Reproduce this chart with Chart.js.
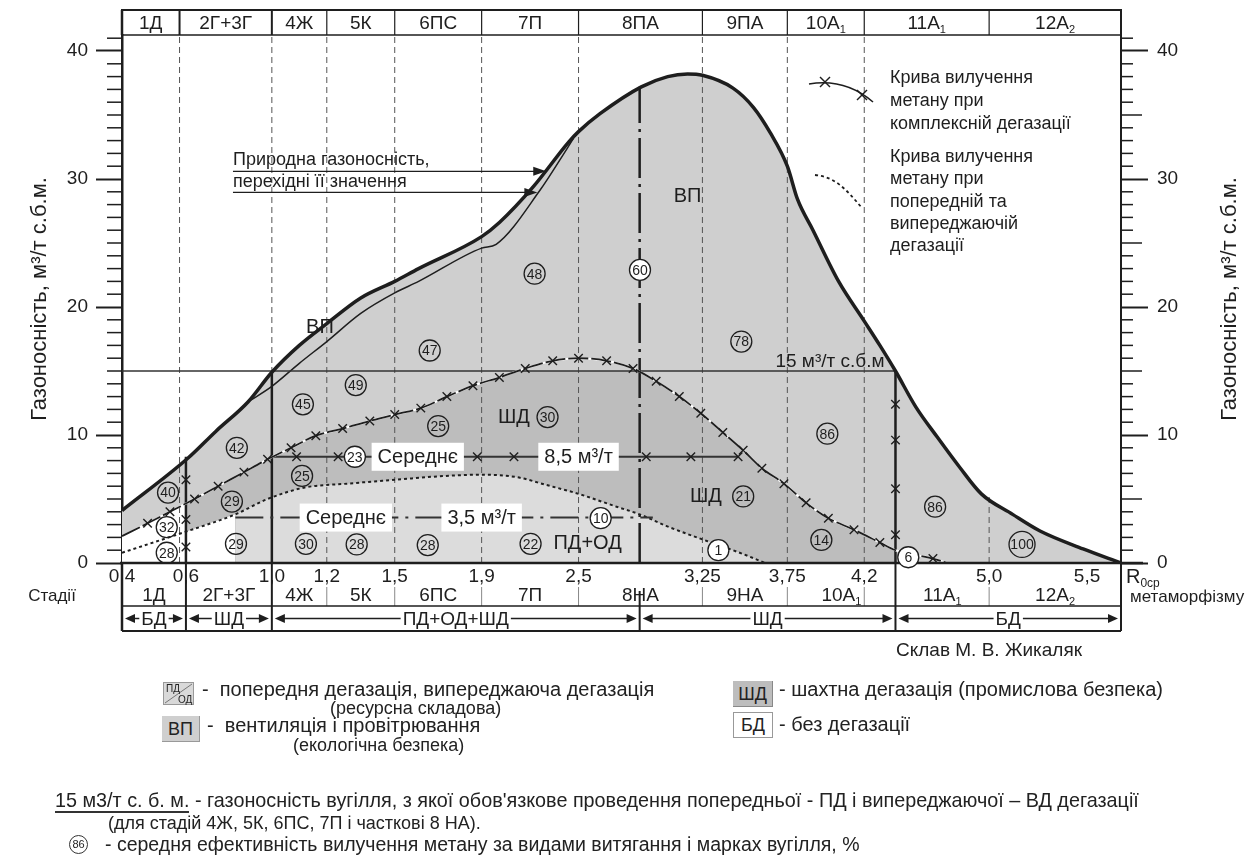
<!DOCTYPE html>
<html>
<head>
<meta charset="utf-8">
<script src="https://cdn.jsdelivr.net/npm/chart.js@4.4.1/dist/chart.umd.min.js"></script>
<style>
body { margin: 0; background: #fff; }
#wrap { position: relative; width: 1255px; height: 859px; font-family: "Liberation Sans", Arial, sans-serif; color: #222; }
#chart { position: absolute; left: 0; top: 0; }
.t { position: absolute; font-size: 20px; line-height: 20px; white-space: nowrap; }
.s { font-size: 18px; }
.box { position: absolute; box-sizing: border-box; text-align: center; font-size: 18px; }
</style>
</head>
<body>
<div id="wrap">
<canvas id="chart" width="1255" height="859"></canvas>

<div class="t s" style="left:896px;top:640px;font-size:19px">Склав М. В. Жикаляк</div>

<svg class="box" style="left:163px;top:682px" width="31" height="23">
  <rect x="0.5" y="0.5" width="30" height="22" fill="#d9d9d9" stroke="#999"/>
  <line x1="2" y1="21" x2="29" y2="2" stroke="#777"/>
  <text x="3" y="10" font-size="10" font-family="Liberation Sans, Arial" fill="#222">ПД</text>
  <text x="15" y="21" font-size="10" font-family="Liberation Sans, Arial" fill="#222">ОД</text>
</svg>
<div class="t" style="left:202px;top:679px">-&nbsp; попередня дегазація, випереджаюча дегазація</div>
<div class="t s" style="left:330px;top:698px">(ресурсна складова)</div>

<div class="box" style="left:162px;top:716px;width:38px;height:26px;line-height:26px;background:#cfcfcf;border-right:1px solid #999;border-bottom:1px solid #999">ВП</div>
<div class="t" style="left:207px;top:715px">-&nbsp; вентиляція і провітрювання</div>
<div class="t s" style="left:293px;top:735px">(екологічна безпека)</div>

<div class="box" style="left:733px;top:681px;width:40px;height:26px;line-height:26px;background:#bdbdbd;border-right:1px solid #888;border-bottom:1px solid #888">ШД</div>
<div class="t" style="left:779px;top:679px">- шахтна дегазація (промислова безпека)</div>

<div class="box" style="left:733px;top:712px;width:40px;height:26px;line-height:24px;background:#fff;border:1px solid #999">БД</div>
<div class="t" style="left:779px;top:714px">- без дегазації</div>

<div class="t" style="left:55px;top:790px;font-size:19.8px"><span style="display:inline-block;border-bottom:2.5px solid #333;padding-bottom:1px">15 м3/т с. б. м.</span> - газоносність вугілля, з якої обов'язкове проведення попередньої - ПД і випереджаючої – ВД дегазації</div>
<div class="t s" style="left:108px;top:813px">(для стадій 4Ж, 5К, 6ПС, 7П і часткові 8 НА).</div>
<div class="box" style="left:69px;top:835px;width:19px;height:19px;border:1px solid #333;border-radius:50%;font-size:11px;line-height:17px">86</div>
<div class="t" style="left:105px;top:834px;font-size:19.5px">- середня ефективність вилучення метану за видами витягання і марках вугілля, %</div>
</div>

<script>
// x axis: mean vitrinite reflectance R0cp (not uniform on the original scale)
const rTicks = [0.4, 0.6, 1.0, 1.2, 1.5, 1.9, 2.5, 3.25, 3.75, 4.2, 5.0, 5.5];
const rTickLabels = ['0,4', '0,6', '1,0', '1,2', '1,5', '1,9', '2,5', '3,25', '3,75', '4,2', '5,0', '5,5'];
const rMin = 0.4;
const rMax = 5.675;

// coal stages
const stageTop = ['1Д', '2Г+3Г', '4Ж', '5К', '6ПС', '7П', '8ПА', '9ПА', '10А_1', '11А_1', '12А_2'];
const stageTopEdges = [0.4, 0.58, 1.0, 1.2, 1.5, 1.9, 2.5, 3.25, 3.75, 4.2, 5.0, 5.675];
const stageBottom = ['1Д', '2Г+3Г', '4Ж', '5К', '6ПС', '7П', '8НА', '9НА', '10А_1', '11А_1', '12А_2'];
const stageBottomEdges = [0.4, 0.6, 1.0, 1.2, 1.5, 1.9, 2.5, 3.25, 3.75, 4.4, 5.0, 5.675];
const degasLabels = ['БД', 'ШД', 'ПД+ОД+ШД', 'ШД', 'БД'];
const degasEdges = [0.4, 0.6, 1.0, 2.87, 4.4, 5.675];

// natural gas content (thick curve), m3/t
const gasR = [0.40, 0.61, 0.74, 0.89, 1.00, 1.10, 1.20, 1.35, 1.50, 1.61, 1.90, 2.01, 2.22, 2.44, 2.50, 2.63, 2.88, 3.04, 3.16, 3.25, 3.43, 3.55, 3.65, 3.75, 3.81, 3.90, 4.05, 4.20, 4.30, 4.40, 4.53, 4.67, 4.81, 4.95, 5.12, 5.26, 5.48, 5.675];
const gasV = [4.1, 8.2, 10.3, 12.6, 14.9, 17.0, 18.7, 20.7, 22.0, 23.0, 25.5, 26.6, 29.4, 32.9, 33.7, 35.1, 37.2, 38.0, 38.2, 38.1, 37.1, 35.6, 33.6, 31.0, 28.4, 26.0, 22.0, 18.9, 17.0, 15.0, 12.2, 9.8, 7.5, 5.4, 3.8, 2.5, 1.1, 0];
// transitional values (thin curve)
const thinR = [0.89, 1.00, 1.10, 1.20, 1.35, 1.50, 1.61, 1.90, 1.99, 2.26, 2.43, 2.47];
const thinV = [12.6, 13.8, 15.6, 17.3, 19.5, 21.1, 22.0, 24.6, 24.9, 29.1, 32.4, 33.2];
// methane recovery, complex degassing (x curve)
const xR = [0.40, 0.48, 0.55, 0.64, 0.75, 0.87, 0.98, 1.07, 1.16, 1.27, 1.39, 1.50, 1.62, 1.74, 1.86, 2.01, 2.17, 2.34, 2.50, 2.67, 2.83, 2.97, 3.11, 3.24, 3.37, 3.49, 3.60, 3.73, 3.86, 3.99, 4.14, 4.30, 4.40, 4.64, 4.73];
const xV = [2.1, 3.1, 4.0, 5.0, 6.0, 7.1, 8.1, 9.0, 9.95, 10.5, 11.1, 11.6, 12.1, 13.0, 13.85, 14.5, 15.2, 15.8, 16.0, 15.8, 15.2, 14.2, 13.0, 11.7, 10.2, 8.8, 7.4, 6.2, 4.7, 3.5, 2.6, 1.6, 1.0, 0.35, 0];
const xPlainR = [0.40, 4.40, 4.73];
const xAt06 = 4.65;
// methane recovery, preliminary and advance degassing (dotted curve)
const dotR = [0.40, 0.60, 0.83, 0.98, 1.12, 1.29, 1.50, 1.73, 1.90, 2.12, 2.30, 2.50, 2.73, 2.87, 3.03, 3.28, 3.45, 3.62];
const dotV = [0.8, 2.45, 3.8, 5.0, 5.9, 6.2, 6.5, 6.8, 6.9, 6.7, 6.1, 5.4, 4.4, 3.8, 2.9, 1.7, 0.9, 0.0];

// mean 8,5 m3/t line and mean 3,5 m3/t line
const avgHighR = [1.00, 1.09, 1.25, 1.88, 2.10, 2.91, 3.18, 3.46];
const avgHighV = 8.3;
const avgLowR = [0.83, 2.95];
const avgLowV = 3.55;
// 15 m3/t limit
const limitR = [0.4, 4.4];
const limitV = 15;
// vertical boundaries
const col06V = [0, 1.25, 3.4, 6.5, 8.3];
const col10V = [0, 15];
const col287V = [0, 37.2];
const col44V = [0, 2.2, 5.8, 9.6, 12.4, 15];
const gridR = [0.58, 1.0, 1.2, 1.5, 1.9, 2.5, 3.25, 3.75, 4.2, 5.0];
const gridTop = [41.25, 41.25, 41.25, 41.25, 41.25, 41.25, 41.25, 41.25, 41.25, 5.3];

// mean recovery efficiency, %
const circleText = ['40', '32', '28', '42', '29', '29', '45', '25', '30', '49', '23', '28', '47', '25', '28', '48', '30', '22', '10', '60', '78', '86', '21', '1', '14', '6', '86', '100'];
const circleR = [0.544, 0.54, 0.54, 0.837, 0.814, 0.833, 1.113, 1.11, 1.124, 1.328, 1.324, 1.332, 1.661, 1.70, 1.652, 2.228, 2.308, 2.203, 2.634, 2.872, 3.479, 3.984, 3.49, 3.344, 3.949, 4.482, 4.654, 5.168];
const circleV = [5.5, 2.8, 0.8, 9.0, 4.8, 1.5, 12.4, 6.8, 1.5, 13.9, 8.3, 1.45, 16.6, 10.7, 1.4, 22.6, 11.4, 1.5, 3.5, 22.9, 17.3, 10.1, 5.2, 1.0, 1.8, 0.45, 4.4, 1.45];
const whiteCircles = ['60', '10', '6', '23', '1'];

const FONT = '"Liberation Sans", Arial, sans-serif';
const INK = '#1e1e1e';
const VP = '#cfcfcf';
const SHD = '#bdbdbd';
const PDOD = '#dcdcdc';

// position of R anchors along the axis (fraction of the width)
const rAnchor = [0.4, 0.6, 1.0, 1.2, 1.5, 1.9, 2.5, 3.25, 3.75, 4.2, 5.0, 5.5, 5.675];
const rFrac = [0, 0.064, 0.150, 0.205, 0.273, 0.360, 0.457, 0.581, 0.666, 0.743, 0.868, 0.966, 1];

function toFrac(v) {
  let i = 0;
  while (i < rAnchor.length - 2 && v > rAnchor[i + 1]) i++;
  const t = (v - rAnchor[i]) / (rAnchor[i + 1] - rAnchor[i]);
  return rFrac[i] + t * (rFrac[i + 1] - rFrac[i]);
}
function fromFrac(f) {
  let i = 0;
  while (i < rFrac.length - 2 && f > rFrac[i + 1]) i++;
  const t = (f - rFrac[i]) / (rFrac[i + 1] - rFrac[i]);
  return rAnchor[i] + t * (rAnchor[i + 1] - rAnchor[i]);
}

class StageScale extends Chart.LinearScale {
  getPixelForValue(value) {
    if (value === null || isNaN(value)) return NaN;
    return this.getPixelForDecimal(toFrac(value));
  }
  getValueForPixel(pixel) {
    return fromFrac(this.getDecimalForPixel(pixel));
  }
}
StageScale.id = 'stage';
StageScale.defaults = {};
Chart.register(StageScale);

const P = (rs, vs) => rs.map((r, i) => ({ x: r, y: Array.isArray(vs) ? vs[i] : vs }));
const V = (r, vs) => vs.map(v => ({ x: r, y: v }));
const xPts = P(xR, xV);
const dPts = P(dotR, dotV);
const innerMark = ctx => (ctx.dataIndex === 0 || ctx.dataIndex === ctx.dataset.data.length - 1) ? 0 : 6;
const mono = { cubicInterpolationMode: 'monotone', pointRadius: 0, borderWidth: 0 };

const datasets = [
  // fills, bottom to top
  Object.assign({ data: P(gasR, gasV), fill: 'origin', backgroundColor: VP, order: 20 }, mono),
  Object.assign({ data: [{ x: 0.6, y: xAt06 }].concat(xPts.filter(p => p.x > 0.6 && p.x <= 4.4)), fill: 'origin', backgroundColor: SHD, order: 19 }, mono),
  Object.assign({ data: xPts, fill: { target: { value: 15 }, above: VP, below: 'rgba(0,0,0,0)' }, order: 18 }, mono),
  Object.assign({ data: xPts.filter(p => p.x < 0.6).concat([{ x: 0.6, y: xAt06 }]), fill: 'origin', backgroundColor: '#fff', order: 17 }, mono),
  Object.assign({ data: dPts.filter(p => p.x >= 0.6 && p.x <= 0.83), fill: 'origin', backgroundColor: '#fff', order: 16 }, mono),
  Object.assign({ data: dPts.filter(p => p.x >= 0.83), fill: 'origin', backgroundColor: PDOD, order: 15 }, mono)
];

// dashed stage boundaries
gridR.forEach((r, i) => {
  datasets.push({ data: [{ x: r, y: 0 }, { x: r, y: gridTop[i] }], borderColor: '#555', borderWidth: 1, borderDash: [6, 4], pointRadius: 0, order: 12 });
});

datasets.push(
  { data: P(thinR, thinV), borderColor: INK, borderWidth: 1.5, pointRadius: 0, cubicInterpolationMode: 'monotone', order: 10 },
  { data: P(limitR, limitV), borderColor: '#333', borderWidth: 1.6, pointRadius: 0, order: 9 },
  { data: V(0.6, col06V), borderColor: INK, borderWidth: 2.5, pointRadius: innerMark, pointStyle: 'crossRot', pointBorderColor: INK, pointBorderWidth: 1.4, order: 8 },
  { data: V(1.0, col10V), borderColor: INK, borderWidth: 2.5, pointRadius: 0, order: 8 },
  { data: V(4.4, col44V), borderColor: INK, borderWidth: 2.5, pointRadius: innerMark, pointStyle: 'crossRot', pointBorderColor: INK, pointBorderWidth: 1.4, order: 8 },
  { data: V(2.87, col287V), borderColor: INK, borderWidth: 2.5, borderDash: [40, 6, 3, 6], pointRadius: 0, order: 8 },
  { data: dPts, borderColor: INK, borderWidth: 2, borderDash: [3, 3], pointRadius: 0, cubicInterpolationMode: 'monotone', order: 7 },
  { data: P(avgHighR, avgHighV), borderColor: '#333', borderWidth: 2, pointRadius: ctx => ctx.dataIndex === 0 ? 0 : 6, pointStyle: 'crossRot', pointBorderColor: INK, pointBorderWidth: 1.4, order: 6 },
  { data: P(avgLowR, avgLowV), borderColor: '#333', borderWidth: 2, borderDash: [28, 7, 3, 7], pointRadius: 0, order: 6 },
  { data: xPts, borderColor: '#fff', borderWidth: 2, pointRadius: 0, cubicInterpolationMode: 'monotone', order: 5 },
  { data: xPts, borderColor: INK, borderWidth: 1.8, borderDash: [20, 3], cubicInterpolationMode: 'monotone', pointStyle: 'crossRot',
    pointRadius: ctx => xPlainR.includes(ctx.raw.x) ? 0 : 6, pointBorderColor: INK, pointBorderWidth: 1.4, order: 4 },
  { data: P(gasR, gasV), borderColor: INK, borderWidth: 3.5, pointRadius: 0, cubicInterpolationMode: 'monotone', order: 1 }
);

function line(ctx, x1, y1, x2, y2, w, color) {
  ctx.beginPath();
  ctx.moveTo(x1, y1);
  ctx.lineTo(x2, y2);
  ctx.lineWidth = w;
  ctx.strokeStyle = color || INK;
  ctx.stroke();
}
function arrowHead(ctx, x, y, dir, len, half) {
  ctx.beginPath();
  ctx.moveTo(x, y);
  ctx.lineTo(x - dir * len, y - half);
  ctx.lineTo(x - dir * len, y + half);
  ctx.closePath();
  ctx.fillStyle = INK;
  ctx.fill();
}
// text like "10А_1" -> 10А with subscript 1
function subText(ctx, str, x, y, size, align) {
  const parts = str.split('_');
  ctx.font = size + 'px ' + FONT;
  const wm = ctx.measureText(parts[0]).width;
  let ws = 0;
  const ss = Math.round(size * 0.6);
  if (parts[1]) { ctx.font = ss + 'px ' + FONT; ws = ctx.measureText(parts[1]).width; }
  const x0 = align === 'center' ? x - (wm + ws) / 2 : x;
  ctx.textAlign = 'left';
  ctx.textBaseline = 'middle';
  ctx.fillStyle = INK;
  ctx.font = size + 'px ' + FONT;
  ctx.fillText(parts[0], x0, y);
  if (parts[1]) {
    ctx.font = ss + 'px ' + FONT;
    ctx.fillText(parts[1], x0 + wm, y + size * 0.32);
  }
}
function boxLabel(ctx, text, x, y) {
  ctx.font = '20px ' + FONT;
  const w = ctx.measureText(text).width + 12;
  ctx.fillStyle = '#fff';
  ctx.fillRect(x - w / 2, y - 14, w, 28);
  ctx.fillStyle = INK;
  ctx.textAlign = 'center';
  ctx.textBaseline = 'middle';
  ctx.fillText(text, x, y + 1);
}

const axisTitle = 'Газоносність, м³/т с.б.м.';

const decor = {
  id: 'decor',
  afterDraw(chart) {
    const { ctx, chartArea: ca } = chart;
    const xs = chart.scales.x, ys = chart.scales.y;
    const X = r => xs.getPixelForValue(r);
    const Y = v => ys.getPixelForValue(v);
    ctx.save();

    // minor ticks on both value axes
    for (let v = 1; v <= 41; v++) {
      if (v % 10 === 0) continue;
      const y = Y(v);
      line(ctx, ca.left - 15, y, ca.left, y, 1.5);
      line(ctx, ca.right, y, ca.right + (v % 5 === 0 ? 21 : 12), y, 1.5);
    }

    // right axis title, read bottom to top like the left one
    ctx.save();
    ctx.translate(1230, (ca.top + ca.bottom) / 2);
    ctx.rotate(-Math.PI / 2);
    ctx.font = '22px ' + FONT;
    ctx.fillStyle = INK;
    ctx.textAlign = 'center';
    ctx.textBaseline = 'middle';
    ctx.fillText(axisTitle, 0, 0);
    ctx.restore();

    // header with stage names
    const hTop = ca.top - 25;
    line(ctx, ca.left - 1, hTop, ca.right + 1, hTop, 2);
    line(ctx, ca.left, ca.top, ca.right, ca.top, 1.5);
    for (let i = 0; i < stageTop.length; i++) {
      const a = X(stageTopEdges[i]), b = X(stageTopEdges[i + 1]);
      if (i > 0) line(ctx, a, hTop, a, ca.top, i < 3 ? 2 : 1.2);
      subText(ctx, stageTop[i], (a + b) / 2, (hTop + ca.top) / 2 + 1, 19, 'center');
    }

    // frame
    const tBot = ca.bottom + 68;
    const rowLine = ca.bottom + 43;
    line(ctx, ca.left, hTop, ca.left, ca.top, 2.5);
    line(ctx, ca.left, ca.bottom, ca.left, tBot, 2.5);
    line(ctx, ca.right, hTop, ca.right, ca.top, 2);
    line(ctx, ca.right, ca.bottom, ca.right, tBot, 2);
    line(ctx, ca.left - 2, ca.bottom, ca.right + 22, ca.bottom, 2.5);

    // R0 labels
    ctx.fillStyle = INK;
    ctx.font = '19px ' + FONT;
    ctx.textAlign = 'center';
    ctx.textBaseline = 'middle';
    rTicks.forEach((r, i) => ctx.fillText(rTickLabels[i], X(r), ca.bottom + 14));

    // stage row
    for (let i = 0; i < stageBottom.length; i++) {
      const a = X(stageBottomEdges[i]), b = X(stageBottomEdges[i + 1]);
      subText(ctx, stageBottom[i], (a + b) / 2, ca.bottom + 33, 19, 'center');
    }
    [1.2, 1.5, 1.9, 2.5, 3.25, 3.75, 4.2, 5.0].forEach(r => line(ctx, X(r), ca.bottom + 24, X(r), rowLine, 1, '#888'));
    [0.6, 1.0, 4.4].forEach(r => line(ctx, X(r), ca.bottom, X(r), tBot, 2));
    line(ctx, X(2.87), ca.bottom + 28, X(2.87), tBot, 2);
    line(ctx, ca.left, rowLine, ca.right, rowLine, 1.5);
    line(ctx, ca.left, tBot, ca.right, tBot, 2);

    // degassing kind row with double arrows
    const ay = (rowLine + tBot) / 2;
    ctx.font = '19px ' + FONT;
    for (let i = 0; i < degasLabels.length; i++) {
      const a = X(degasEdges[i]) + 3, b = X(degasEdges[i + 1]) - 3;
      const mid = (a + b) / 2;
      const w = ctx.measureText(degasLabels[i]).width;
      line(ctx, a + 6, ay, mid - w / 2 - 2, ay, 1.5);
      line(ctx, mid + w / 2 + 2, ay, b - 6, ay, 1.5);
      arrowHead(ctx, a, ay, -1, 10, 4.5);
      arrowHead(ctx, b, ay, 1, 10, 4.5);
      ctx.fillStyle = INK;
      ctx.textAlign = 'center';
      ctx.fillText(degasLabels[i], mid, ay + 1);
    }
    ctx.font = '17px ' + FONT;
    ctx.textAlign = 'center';
    ctx.fillText('Стадії', 52, ca.bottom + 33);
    subText(ctx, 'R_0ср', ca.right + 5, ca.bottom + 14, 20, 'left');
    ctx.font = '17px ' + FONT;
    ctx.textAlign = 'left';
    ctx.fillText('метаморфізму', ca.right + 9, ca.bottom + 34);

    // labels inside the plot
    ctx.font = '20px ' + FONT;
    ctx.textAlign = 'center';
    ctx.fillStyle = INK;
    ctx.fillText('ВП', X(3.16), Y(28.6));
    ctx.fillText('ВП', X(1.175), Y(18.4));
    ctx.fillText('ШД', X(2.10), Y(11.4));
    ctx.fillText('ШД', X(3.27), Y(5.2));
    ctx.fillText('ПД+ОД', X(2.555), Y(1.5));
    ctx.font = '19px ' + FONT;
    ctx.textAlign = 'left';
    ctx.fillText('15 м³/т с.б.м', X(3.68), Y(15.7));

    boxLabel(ctx, 'Середнє', X(1.606), Y(avgHighV));
    boxLabel(ctx, '8,5 м³/т', X(2.5), Y(avgHighV));
    boxLabel(ctx, 'Середнє', X(1.284), Y(avgLowV));
    boxLabel(ctx, '3,5 м³/т', X(1.9), Y(avgLowV));

    // callouts to the gas content curves
    ctx.font = '18px ' + FONT;
    ctx.textAlign = 'left';
    ctx.fillStyle = INK;
    ctx.fillText('Природна газоносність,', X(0.819), Y(31.45));
    ctx.fillText('перехідні її значення', X(0.819), Y(29.8));
    line(ctx, X(0.819), Y(30.6), X(2.30) - 10, Y(30.6), 1.3);
    arrowHead(ctx, X(2.30), Y(30.6), 1, 13, 4.5);
    line(ctx, X(0.819), Y(28.95), X(2.245) - 10, Y(28.95), 1.3);
    arrowHead(ctx, X(2.245), Y(28.95), 1, 13, 4.5);

    // circled efficiency values
    circleR.forEach((r, i) => {
      const x = X(r), y = Y(circleV[i]), t = circleText[i];
      const rad = t.length > 2 ? 13 : 10.5;
      ctx.beginPath();
      ctx.arc(x, y, rad, 0, 2 * Math.PI);
      if (whiteCircles.includes(t)) { ctx.fillStyle = '#fff'; ctx.fill(); }
      ctx.lineWidth = 1.3;
      ctx.strokeStyle = INK;
      ctx.stroke();
      ctx.fillStyle = INK;
      ctx.font = '14px ' + FONT;
      ctx.textAlign = 'center';
      ctx.fillText(t, x, y + 1);
    });

    // legend of the two recovery curves (top right)
    ctx.beginPath();
    ctx.moveTo(809, 84);
    ctx.quadraticCurveTo(845, 78, 873, 102);
    ctx.lineWidth = 1.6;
    ctx.strokeStyle = INK;
    ctx.stroke();
    [[825, 82], [862, 95]].forEach(p => {
      line(ctx, p[0] - 5, p[1] - 5, p[0] + 5, p[1] + 5, 1.4);
      line(ctx, p[0] - 5, p[1] + 5, p[0] + 5, p[1] - 5, 1.4);
    });
    ctx.beginPath();
    ctx.moveTo(815, 175);
    ctx.bezierCurveTo(835, 177, 845, 188, 862, 208);
    ctx.setLineDash([3, 3]);
    ctx.lineWidth = 1.8;
    ctx.stroke();
    ctx.setLineDash([]);
    ctx.font = '18px ' + FONT;
    ctx.textAlign = 'left';
    ctx.fillStyle = INK;
    ['Крива вилучення', 'метану при', 'комплексній дегазації'].forEach((s, i) => ctx.fillText(s, 890, 78 + i * 23));
    ['Крива вилучення', 'метану при', 'попередній та', 'випереджаючій', 'дегазації'].forEach((s, i) => ctx.fillText(s, 890, 157 + i * 22.3));

    ctx.restore();
  }
};

new Chart(document.getElementById('chart'), {
  type: 'line',
  data: { datasets: datasets },
  options: {
    responsive: false,
    animation: false,
    events: [],
    layout: { padding: { top: 35, bottom: 296, left: 0, right: 0 } },
    plugins: { legend: { display: false }, tooltip: { enabled: false } },
    elements: { point: { radius: 0 }, line: { fill: false } },
    scales: {
      x: { type: 'stage', min: rMin, max: rMax, display: false },
      y: {
        position: 'left', min: 0, max: 41.25,
        ticks: { stepSize: 10, includeBounds: false, color: INK, padding: 8, font: { size: 19, family: FONT } },
        grid: { drawOnChartArea: false, tickLength: 26, tickWidth: 2, tickColor: INK },
        border: { display: true, width: 2.5, color: INK },
        title: { display: true, text: axisTitle, color: INK, font: { size: 22, family: FONT }, padding: { top: 27, bottom: 0 } },
        afterFit: s => { s.width = 122; }
      },
      y2: {
        position: 'right', min: 0, max: 41.25,
        ticks: { stepSize: 10, includeBounds: false, color: INK, padding: 9, font: { size: 19, family: FONT } },
        grid: { drawOnChartArea: false, tickLength: 27, tickWidth: 2, tickColor: INK },
        border: { display: true, width: 2, color: INK },
        afterFit: s => { s.width = 134; }
      }
    }
  },
  plugins: [decor]
});
</script>
</body>
</html>
